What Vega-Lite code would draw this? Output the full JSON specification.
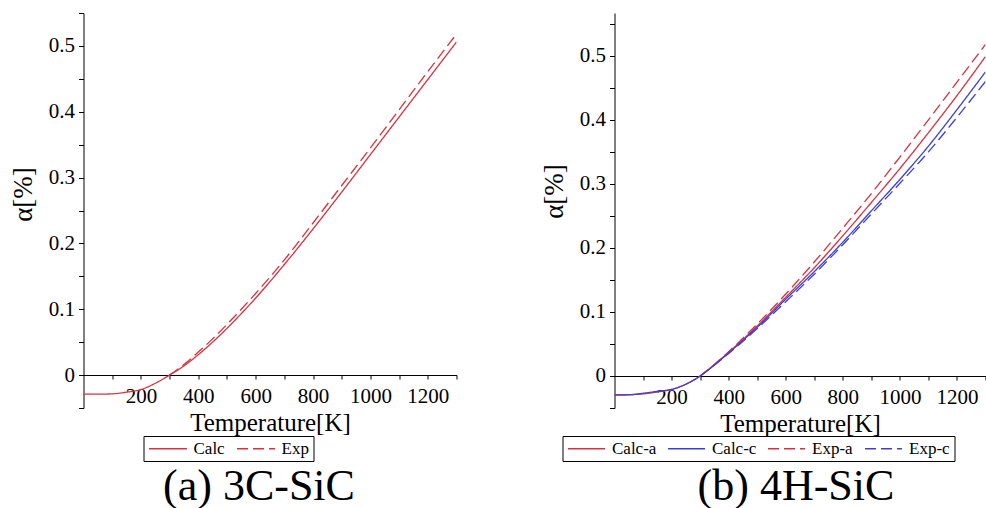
{
  "$schema": "https://vega.github.io/schema/vega-lite/v6.json",
  "background": "white",
  "padding": {"left": 9.5, "top": 2, "right": 0, "bottom": 0},
  "autosize": {"type": "pad"},
  "spacing": 83,
  "config": {
    "view": {"stroke": null},
    "font": "Liberation Serif",
    "axis": {
      "domainColor": "black", "domainWidth": 1, "tickColor": "black", "tickWidth": 1,
      "labelColor": "black", "titleColor": "black",
      "labelFont": "Liberation Serif", "titleFont": "Liberation Serif",
      "labelFontSize": 21, "titleFontSize": 25, "titleFontWeight": "normal",
      "grid": false, "labelOverlap": false, "labelFlush": false
    },
    "legend": {
      "labelFont": "Liberation Serif", "labelFontSize": 17, "labelColor": "black",
      "strokeColor": "black", "fillColor": "white", "padding": 4
    },
    "title": {"font": "Liberation Serif", "fontSize": 44, "fontWeight": "normal", "color": "black"}
  },
  "datasets": {
    "c3": [
      {"series": "Exp", "T": 300, "alpha": 0},
      {"series": "Exp", "T": 350, "alpha": 0.016},
      {"series": "Exp", "T": 400, "alpha": 0.035},
      {"series": "Exp", "T": 450, "alpha": 0.055},
      {"series": "Exp", "T": 500, "alpha": 0.077},
      {"series": "Exp", "T": 600, "alpha": 0.124},
      {"series": "Exp", "T": 700, "alpha": 0.175},
      {"series": "Exp", "T": 800, "alpha": 0.231},
      {"series": "Exp", "T": 900, "alpha": 0.288},
      {"series": "Exp", "T": 1000, "alpha": 0.345},
      {"series": "Exp", "T": 1100, "alpha": 0.403},
      {"series": "Exp", "T": 1200, "alpha": 0.461},
      {"series": "Exp", "T": 1300, "alpha": 0.518},
      {"series": "Calc", "T": 0, "alpha": -0.029},
      {"series": "Calc", "T": 50, "alpha": -0.029},
      {"series": "Calc", "T": 100, "alpha": -0.0285},
      {"series": "Calc", "T": 150, "alpha": -0.026},
      {"series": "Calc", "T": 200, "alpha": -0.022},
      {"series": "Calc", "T": 250, "alpha": -0.0125},
      {"series": "Calc", "T": 300, "alpha": 0},
      {"series": "Calc", "T": 350, "alpha": 0.014},
      {"series": "Calc", "T": 400, "alpha": 0.031},
      {"series": "Calc", "T": 450, "alpha": 0.05},
      {"series": "Calc", "T": 500, "alpha": 0.071},
      {"series": "Calc", "T": 600, "alpha": 0.117},
      {"series": "Calc", "T": 700, "alpha": 0.168},
      {"series": "Calc", "T": 800, "alpha": 0.222},
      {"series": "Calc", "T": 900, "alpha": 0.278},
      {"series": "Calc", "T": 1000, "alpha": 0.335},
      {"series": "Calc", "T": 1100, "alpha": 0.392},
      {"series": "Calc", "T": 1200, "alpha": 0.449},
      {"series": "Calc", "T": 1300, "alpha": 0.506}
    ],
    "h4": [
      {"series": "Exp-a", "T": 300, "alpha": 0},
      {"series": "Exp-a", "T": 350, "alpha": 0.018},
      {"series": "Exp-a", "T": 400, "alpha": 0.038},
      {"series": "Exp-a", "T": 500, "alpha": 0.081},
      {"series": "Exp-a", "T": 600, "alpha": 0.128},
      {"series": "Exp-a", "T": 700, "alpha": 0.178},
      {"series": "Exp-a", "T": 800, "alpha": 0.231},
      {"series": "Exp-a", "T": 900, "alpha": 0.285},
      {"series": "Exp-a", "T": 1000, "alpha": 0.342},
      {"series": "Exp-a", "T": 1100, "alpha": 0.4},
      {"series": "Exp-a", "T": 1200, "alpha": 0.459},
      {"series": "Exp-a", "T": 1300, "alpha": 0.518},
      {"series": "Exp-c", "T": 300, "alpha": 0},
      {"series": "Exp-c", "T": 350, "alpha": 0.017},
      {"series": "Exp-c", "T": 400, "alpha": 0.035},
      {"series": "Exp-c", "T": 500, "alpha": 0.074},
      {"series": "Exp-c", "T": 600, "alpha": 0.116},
      {"series": "Exp-c", "T": 700, "alpha": 0.159},
      {"series": "Exp-c", "T": 800, "alpha": 0.205},
      {"series": "Exp-c", "T": 900, "alpha": 0.253},
      {"series": "Exp-c", "T": 1000, "alpha": 0.301},
      {"series": "Exp-c", "T": 1100, "alpha": 0.35},
      {"series": "Exp-c", "T": 1200, "alpha": 0.404},
      {"series": "Exp-c", "T": 1300, "alpha": 0.46},
      {"series": "Calc-a", "T": 0, "alpha": -0.029},
      {"series": "Calc-a", "T": 50, "alpha": -0.029},
      {"series": "Calc-a", "T": 100, "alpha": -0.028},
      {"series": "Calc-a", "T": 150, "alpha": -0.025},
      {"series": "Calc-a", "T": 200, "alpha": -0.021},
      {"series": "Calc-a", "T": 300, "alpha": 0},
      {"series": "Calc-a", "T": 350, "alpha": 0.018},
      {"series": "Calc-a", "T": 400, "alpha": 0.037},
      {"series": "Calc-a", "T": 500, "alpha": 0.078},
      {"series": "Calc-a", "T": 600, "alpha": 0.123},
      {"series": "Calc-a", "T": 700, "alpha": 0.169},
      {"series": "Calc-a", "T": 800, "alpha": 0.219},
      {"series": "Calc-a", "T": 900, "alpha": 0.271},
      {"series": "Calc-a", "T": 1000, "alpha": 0.324},
      {"series": "Calc-a", "T": 1100, "alpha": 0.38},
      {"series": "Calc-a", "T": 1200, "alpha": 0.438},
      {"series": "Calc-a", "T": 1300, "alpha": 0.499},
      {"series": "Calc-c", "T": 0, "alpha": -0.03},
      {"series": "Calc-c", "T": 50, "alpha": -0.0295},
      {"series": "Calc-c", "T": 100, "alpha": -0.027},
      {"series": "Calc-c", "T": 150, "alpha": -0.024},
      {"series": "Calc-c", "T": 200, "alpha": -0.021},
      {"series": "Calc-c", "T": 300, "alpha": 0},
      {"series": "Calc-c", "T": 350, "alpha": 0.017},
      {"series": "Calc-c", "T": 400, "alpha": 0.036},
      {"series": "Calc-c", "T": 500, "alpha": 0.076},
      {"series": "Calc-c", "T": 600, "alpha": 0.12},
      {"series": "Calc-c", "T": 700, "alpha": 0.163},
      {"series": "Calc-c", "T": 800, "alpha": 0.209},
      {"series": "Calc-c", "T": 900, "alpha": 0.258},
      {"series": "Calc-c", "T": 1000, "alpha": 0.307},
      {"series": "Calc-c", "T": 1100, "alpha": 0.359},
      {"series": "Calc-c", "T": 1200, "alpha": 0.416},
      {"series": "Calc-c", "T": 1300, "alpha": 0.475}
    ]
  },
  "hconcat": [
    {
      "width": 373,
      "height": 395,
      "title": {"text": "(a) 3C-SiC", "orient": "bottom", "anchor": "middle", "frame": "group", "dx": -11, "offset": 3},
      "data": {"name": "c3"},
      "mark": {"type": "line", "strokeWidth": 1.3, "interpolate": "monotone", "clip": true},
      "encoding": {
        "x": {
          "field": "T", "type": "quantitative",
          "scale": {"domain": [0, 1300], "nice": false, "zero": false},
          "axis": {
            "title": "Temperature[K]", "offset": -33,
            "values": [100, 200, 300, 400, 500, 600, 700, 800, 900, 1000, 1100, 1200, 1300],
            "labelExpr": "datum.value % 200 == 0 && datum.value < 1300 ? format(datum.value, 'd') : ''",
            "tickSize": 4, "labelPadding": 6, "titlePadding": 4
          }
        },
        "y": {
          "field": "alpha", "type": "quantitative",
          "scale": {"domain": [-0.05, 0.55], "nice": false, "zero": false},
          "axis": {
            "title": "α[%]", "titleX": -52, "titleY": 181, "titleAngle": 270,
            "titleBaseline": "alphabetic", "titleAlign": "center", "titleFontSize": 27,
            "values": [-0.05, 0, 0.05, 0.1, 0.15, 0.2, 0.25, 0.3, 0.35, 0.4, 0.45, 0.5, 0.55],
            "labelExpr": "datum.value >= 0 && abs(datum.value * 10 - round(datum.value * 10)) < 0.001 ? format(datum.value, '~g') : ''",
            "tickSize": 5, "labelPadding": 4
          }
        },
        "color": {
          "field": "series", "type": "nominal",
          "scale": {"domain": ["Calc", "Exp"], "range": ["#d9303f", "#d9303f"]},
          "legend": {"title": null, "orient": "none", "legendX": 60, "legendY": 423, "direction": "horizontal", "columns": 2,
            "symbolType": "M-2.71,0H2.71", "symbolSize": 196, "symbolOffset": 12, "symbolStrokeWidth": 1.3, "columnPadding": 8, "labelOffset": 17}
        },
        "strokeDash": {
          "field": "series", "type": "nominal",
          "scale": {"domain": ["Calc", "Exp"], "range": [[1, 0], [11, 5]]},
          "legend": {"title": null, "orient": "none", "legendX": 60, "legendY": 423, "direction": "horizontal", "columns": 2,
            "symbolType": "M-2.71,0H2.71", "symbolSize": 196, "symbolOffset": 12, "symbolStrokeWidth": 1.3, "columnPadding": 8, "labelOffset": 17}
        }
      }
    },
    {
      "width": 371,
      "height": 395,
      "title": {"text": "(b) 4H-SiC", "orient": "bottom", "anchor": "middle", "frame": "group", "dx": -4, "offset": 3},
      "data": {"name": "h4"},
      "mark": {"type": "line", "strokeWidth": 1.3, "interpolate": "monotone", "clip": true},
      "encoding": {
        "x": {
          "field": "T", "type": "quantitative",
          "scale": {"domain": [0, 1300], "nice": false, "zero": false},
          "axis": {
            "title": "Temperature[K]", "offset": -32,
            "values": [100, 200, 300, 400, 500, 600, 700, 800, 900, 1000, 1100, 1200, 1300],
            "labelExpr": "datum.value % 200 == 0 && datum.value < 1300 ? format(datum.value, 'd') : ''",
            "tickSize": 4, "labelPadding": 6, "titlePadding": 4
          }
        },
        "y": {
          "field": "alpha", "type": "quantitative",
          "scale": {"domain": [-0.05, 0.567], "nice": false, "zero": false},
          "axis": {
            "title": "α[%]", "titleX": -52, "titleY": 178, "titleAngle": 270,
            "titleBaseline": "alphabetic", "titleAlign": "center", "titleFontSize": 27,
            "values": [-0.05, 0, 0.05, 0.1, 0.15, 0.2, 0.25, 0.3, 0.35, 0.4, 0.45, 0.5, 0.55],
            "labelExpr": "datum.value >= 0 && abs(datum.value * 10 - round(datum.value * 10)) < 0.001 ? format(datum.value, '~g') : ''",
            "tickSize": 5, "labelPadding": 4
          }
        },
        "color": {
          "field": "series", "type": "nominal",
          "scale": {"domain": ["Calc-a", "Calc-c", "Exp-a", "Exp-c"], "range": ["#d9303f", "#3b3fd6", "#d9303f", "#3b3fd6"]},
          "legend": {"title": null, "orient": "none", "legendX": -52, "legendY": 423, "direction": "horizontal", "columns": 4,
            "symbolType": "M-2.64,0H2.64", "symbolSize": 196, "symbolOffset": 11.5, "symbolStrokeWidth": 1.3, "columnPadding": 8, "labelOffset": 17}
        },
        "strokeDash": {
          "field": "series", "type": "nominal",
          "scale": {"domain": ["Calc-a", "Calc-c", "Exp-a", "Exp-c"], "range": [[1, 0], [1, 0], [11, 5], [11, 5]]},
          "legend": {"title": null, "orient": "none", "legendX": -52, "legendY": 423, "direction": "horizontal", "columns": 4,
            "symbolType": "M-2.64,0H2.64", "symbolSize": 196, "symbolOffset": 11.5, "symbolStrokeWidth": 1.3, "columnPadding": 8, "labelOffset": 17}
        }
      }
    }
  ],
  "resolve": {"scale": {"color": "independent", "strokeDash": "independent", "x": "independent", "y": "independent"}}
}
